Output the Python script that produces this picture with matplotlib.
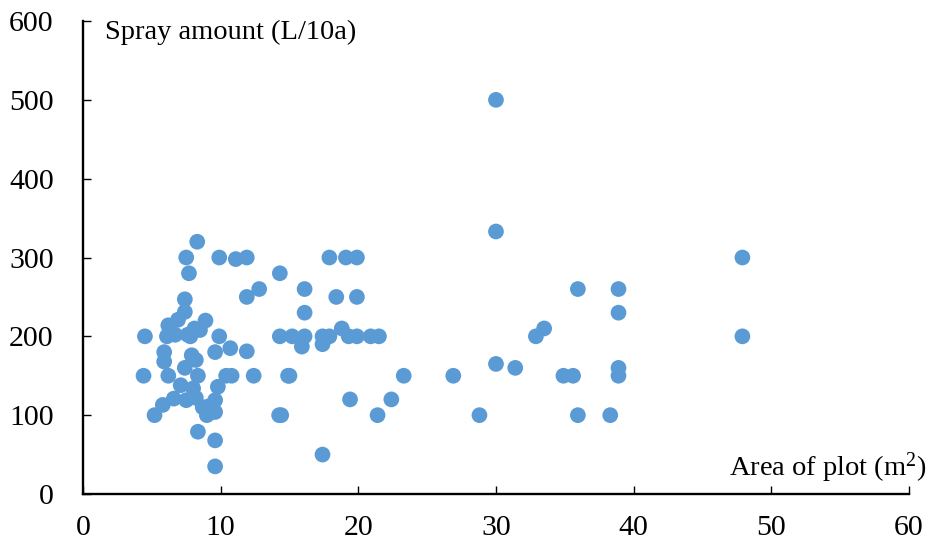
import numpy as np
import matplotlib.pyplot as plt

plt.rcParams['font.family'] = ['Liberation Serif', 'DejaVu Serif']
plt.rcParams['mathtext.fontset'] = 'custom'
plt.rcParams['mathtext.rm'] = 'Liberation Serif'

# plot area (m2) and spray amount (L/10a)
area = [4.4, 4.5, 5.2, 5.8, 5.9, 5.9, 6.1, 6.2, 6.2, 6.2,
        6.6, 6.7, 6.9, 7.1, 7.4, 7.5, 7.4, 7.4, 7.5, 7.6,
        7.7, 7.8, 7.9, 8.0, 8.2, 8.1, 8.2, 8.3, 8.35, 8.35,
        8.5, 8.7, 8.9, 9.0, 9.1, 9.1, 9.6, 9.6, 9.6, 9.6,
        9.6, 9.8, 9.9, 9.9, 10.4, 10.8, 10.7, 11.1, 11.9, 11.9,
        11.9, 12.4, 12.8, 14.25, 14.4, 14.3, 14.3, 14.9, 15.0, 15.2,
        15.9, 16.1, 16.1, 16.1, 17.4, 17.4, 17.4, 17.9, 17.9, 18.4,
        18.8, 19.1, 19.3, 19.4, 19.9, 19.9, 19.9, 20.9, 21.4, 21.5,
        22.4, 23.3, 26.9, 28.8, 30.0, 30.0, 30.0, 31.4, 32.9, 33.5,
        34.9, 35.6, 35.95, 35.95, 38.3, 38.9, 38.9, 38.9, 38.9, 47.9,
        47.9]
spray = [150, 200, 100, 113, 168, 180, 200, 214, 150, 202,
         121, 202, 221, 138, 160, 119, 231, 247, 300, 202,
         280, 200, 176, 134, 170, 210, 122, 320, 150, 79,
         208, 110, 220, 100, 102, 111, 104, 119, 180, 68,
         35, 136, 300, 200, 150, 150, 185, 298, 300, 250,
         181, 150, 260, 100, 100, 280, 200, 150, 150, 200,
         187, 260, 230, 200, 50, 190, 200, 200, 300, 250,
         210, 300, 200, 120, 300, 250, 200, 200, 100, 200,
         120, 150, 150, 100, 500, 333, 165, 160, 200, 210,
         150, 150, 260, 100, 100, 260, 230, 160, 150, 300,
         200]

fig = plt.figure(figsize=(9.30, 5.49), dpi=100)
ax = fig.add_axes([0.0892, 0.1002, 0.8882, 0.8615])

ax.scatter(area, spray, s=128, color='#5B9BD5', edgecolors='none', zorder=3, clip_on=False)

ax.set_xlim(0, 60)
ax.set_ylim(0, 600)
ax.set_xticks(np.arange(0, 61, 10))
ax.set_yticks(np.arange(0, 601, 100))

for s in ['top', 'right']:
    ax.spines[s].set_visible(False)
for s in ['left', 'bottom']:
    ax.spines[s].set_linewidth(1.7)
    ax.spines[s].set_color('black')

ax.tick_params(axis='both', direction='in', length=6, width=1.0, labelsize=21.5)
ax.tick_params(axis='x', pad=15)
ax.tick_params(axis='y', pad=21)

ax.text(1.6, 586, 'Spray amount (L/10a)', fontsize=20.5, ha='left', va='center')
ax.text(61.3, 33, r'Area of plot (m$\mathregular{^2}$)', fontsize=20.5, ha='right', va='center')

fig.savefig('out.png', dpi=100)
